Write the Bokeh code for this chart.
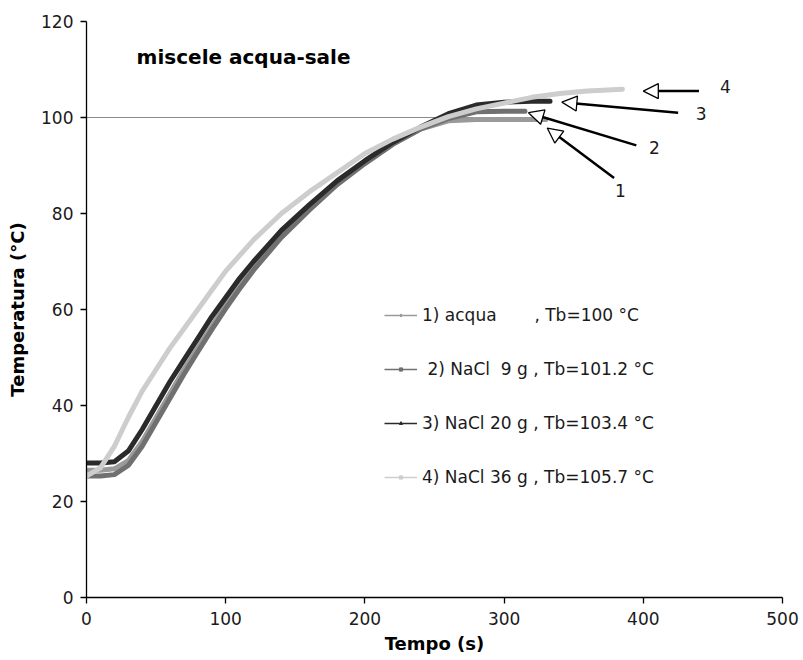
from bokeh.plotting import figure
from bokeh.models import (Range1d, Legend, LegendItem, Arrow, NormalHead, Label,
                          ColumnDataSource)
from bokeh.embed import file_html
from bokeh.resources import INLINE

# ---------------- data ----------------
# 1) acqua
t1 = [0, 10, 20, 30, 40, 50, 60, 70, 80, 90, 100, 110, 120, 140, 160, 180, 200, 220, 240, 260, 280, 300, 330]
T1 = [26.5, 26.5, 26.8, 28.5, 32.5, 37.5, 42.5, 47.5, 52.0, 56.5, 61.0, 65.0, 68.8, 75.5, 81.0, 86.2, 90.6, 94.5, 97.6, 99.3, 99.6, 99.6, 99.6]
# 2) NaCl 9 g
t2 = [0, 10, 20, 30, 40, 50, 60, 70, 80, 90, 100, 110, 120, 140, 160, 180, 200, 220, 240, 260, 280, 300, 315]
T2 = [25.3, 25.3, 25.6, 27.5, 31.5, 36.5, 41.5, 46.5, 51.2, 55.8, 60.2, 64.3, 68.2, 75.0, 80.7, 86.0, 90.4, 94.4, 97.6, 99.8, 101.2, 101.3, 101.3]
# 3) NaCl 20 g
t3 = [0, 10, 20, 30, 40, 50, 60, 70, 80, 90, 100, 110, 120, 140, 160, 180, 200, 220, 240, 260, 280, 300, 320, 333]
T3 = [28.0, 28.0, 28.3, 30.5, 35.0, 40.0, 45.0, 49.5, 54.0, 58.5, 62.5, 66.5, 70.0, 76.5, 81.8, 86.8, 91.0, 94.8, 98.0, 100.8, 102.6, 103.2, 103.4, 103.4]
# 4) NaCl 36 g
t4 = [0, 10, 20, 30, 40, 50, 60, 70, 80, 90, 100, 120, 140, 160, 180, 200, 220, 240, 260, 280, 300, 320, 340, 360, 385]
T4 = [25.3, 27.0, 31.5, 37.5, 43.0, 47.5, 52.0, 56.0, 60.0, 64.0, 68.0, 74.5, 80.0, 84.5, 88.5, 92.5, 95.5, 98.0, 100.2, 101.8, 103.0, 104.2, 105.0, 105.5, 105.9]

labels = ["1) acqua\u00a0\u00a0\u00a0\u00a0\u00a0\u00a0\u00a0, Tb=100 \u00b0C",
          "\u00a02) NaCl\u00a0\u00a09 g , Tb=101.2 \u00b0C",
          "3) NaCl 20 g , Tb=103.4 \u00b0C",
          "4) NaCl 36 g , Tb=105.7 \u00b0C"]
colors = ["#9a9a9a", "#707070", "#2b2b2b", "#cdcdcd"]
markers = ["diamond", "square", "triangle", "square"]

ref_T = 100
ref_t = [0, 300]

x_ticks = [0, 100, 200, 300, 400, 500]
y_ticks = [0, 20, 40, 60, 80, 100, 120]

# arrow annotations: (tail_x, tail_y, tip_x, tip_y, label, label_x, label_y)
arrows = [
    (379, 87.4, 331, 97.8, "1", 383.5, 84.7),
    (395, 94.2, 317.5, 101.0, "2", 408, 93.7),
    (425, 101.0, 341.5, 103.2, "3", 441.5, 100.8),
    (440, 105.5, 400, 105.5, "4", 459, 106.5),
]

FONT = "DejaVu Sans"
NAN = float("nan")

p = figure(width=800, height=660, output_backend="svg", toolbar_location=None,
           x_range=Range1d(0, 500), y_range=Range1d(0, 120),
           min_border_left=86, min_border_right=18, min_border_top=21, min_border_bottom=63)
p.outline_line_color = None
p.grid.visible = False
p.background_fill_color = "white"
p.border_fill_color = "white"

for ax in (p.xaxis[0], p.yaxis[0]):
    ax.axis_line_color = "black"
    ax.axis_line_width = 1.3
    ax.major_tick_line_color = "black"
    ax.major_tick_line_width = 1.3
    ax.major_tick_in = 0
    ax.major_tick_out = 6
    ax.minor_tick_line_color = None
    ax.major_label_text_font = FONT
    ax.major_label_text_font_size = "17px"
    ax.major_label_text_color = "#1a1a1a"
    ax.axis_label_text_font = FONT
    ax.axis_label_text_font_size = "18px"
    ax.axis_label_text_font_style = "bold"
    ax.axis_label_text_color = "black"

p.xaxis.ticker = x_ticks
p.yaxis.ticker = y_ticks
p.xaxis.axis_label = "Tempo (s)"
p.yaxis.axis_label = "Temperatura (\u00b0C)"
p.xaxis.major_label_standoff = 8
p.yaxis.major_label_standoff = 7
p.xaxis.axis_label_standoff = 5
p.yaxis.axis_label_standoff = 10

# reference line at 100 °C
p.line(ref_t, [ref_T, ref_T], line_color="#8a8a8a", line_width=1)

series = [(t1, T1), (t2, T2), (t3, T3), (t4, T4)]
for (tt, TT), c in zip(series, colors):
    p.line(tt, TT, line_color=c, line_width=5, line_join="round", line_cap="round")

# legend-only renderers (thin line + small marker), no visible data
items = []
for lab, c, m in zip(labels, colors, markers):
    src = ColumnDataSource(data=dict(x=[NAN], y=[NAN]))
    rl = p.line("x", "y", source=src, line_color=c, line_width=1.5)
    rs = p.scatter("x", "y", source=src, marker=m, size=5, fill_color=c, line_color=c)
    items.append(LegendItem(label=lab, renderers=[rl, rs]))

legend = Legend(items=items, location=(298, 110), orientation="vertical",
                glyph_width=33, glyph_height=8, label_height=20, label_standoff=5,
                spacing=34, padding=0, margin=0,
                border_line_color=None, background_fill_alpha=0,
                label_text_font=FONT, label_text_font_size="17px",
                label_text_color="#1a1a1a")
p.add_layout(legend)

for (xs, ys, xe, ye, lab, lx, ly) in arrows:
    p.add_layout(Arrow(end=NormalHead(size=15, fill_color="white", line_color="black", line_width=1.3),
                       x_start=xs, y_start=ys, x_end=xe, y_end=ye,
                       line_color="black", line_width=2.5))
    p.add_layout(Label(x=lx, y=ly, text=lab, text_align="center", text_baseline="middle",
                       text_font=FONT, text_font_size="17px", text_color="#1a1a1a"))

p.add_layout(Label(x=36, y=112.7, text="miscele acqua-sale", text_align="left",
                   text_baseline="middle", text_font=FONT, text_font_size="20px",
                   text_font_style="bold", text_color="black"))

open("out.html", "w").write(file_html(p, INLINE))
